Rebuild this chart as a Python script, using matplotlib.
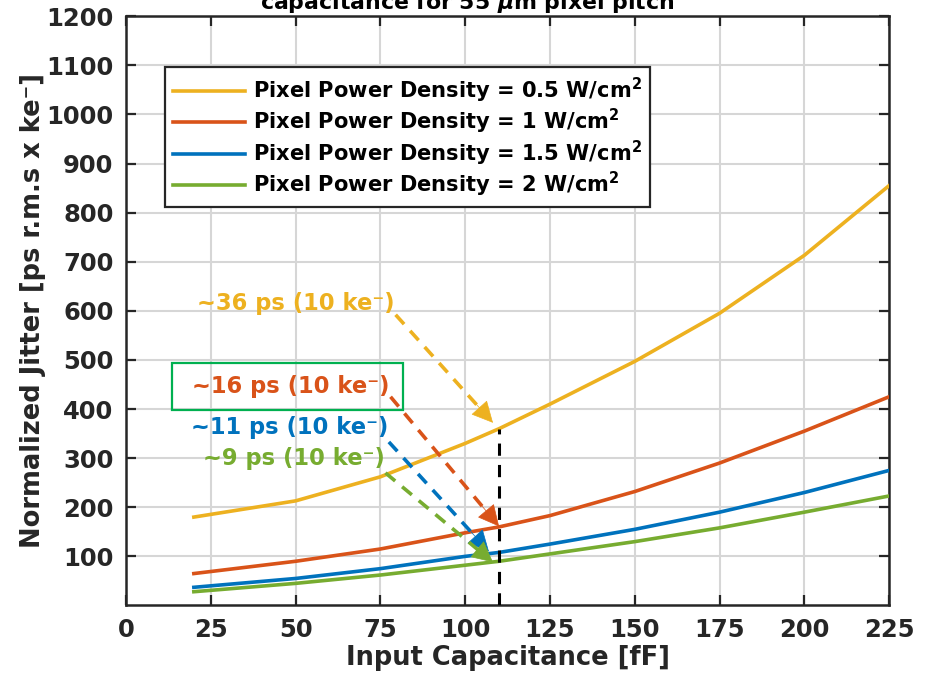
import matplotlib.pyplot as plt
from matplotlib.patches import Rectangle

# input capacitance [fF]
cap = [20, 50, 75, 100, 110, 125, 150, 175, 200, 225]

# normalized jitter [ps r.m.s x ke-] for each pixel power density
jit_05 = [180, 213, 262, 330, 360, 410, 497, 595, 713, 855]
jit_1 = [65, 90, 115, 148, 160, 183, 232, 290, 355, 425]
jit_15 = [37, 55, 75, 100, 108, 125, 155, 190, 230, 275]
jit_2 = [28, 45, 62, 82, 90, 105, 130, 158, 190, 223]

labels = [r'Pixel Power Density = 0.5 W/cm$^{\mathbf{2}}$',
          r'Pixel Power Density = 1 W/cm$^{\mathbf{2}}$',
          r'Pixel Power Density = 1.5 W/cm$^{\mathbf{2}}$',
          r'Pixel Power Density = 2 W/cm$^{\mathbf{2}}$']
colors = ['#EDB120', '#D95319', '#0072BD', '#77AC30']

# annotation texts, text positions, arrow start and arrow tip (data units)
notes = ['~36 ps (10 ke⁻)', '~16 ps (10 ke⁻)', '~11 ps (10 ke⁻)', '~9 ps (10 ke⁻)']
note_x = [20.8, 19.6, 19.2, 22.8]
note_y = [614, 445, 363, 300]
arr_from = [(79.5, 592), (78, 425), (77.5, 333), (76.5, 270)]
arr_to = [(108.2, 372), (110, 161), (107, 110), (108.2, 88)]

plt.rcParams['font.family'] = 'DejaVu Sans'
plt.rcParams['font.weight'] = 'bold'
dark = '#262626'

fig = plt.figure(figsize=(9.3, 6.75), dpi=100)
ax = fig.add_axes([0.1355, 0.103, 0.8205, 0.873])

series = [jit_05, jit_1, jit_15, jit_2]
for s, lab, c in zip(series, labels, colors):
    ax.plot(cap, s, color=c, lw=2.6, label=lab, zorder=3)

# vertical marker at 110 fF
ax.plot([110, 110], [0, jit_05[4]], color='black', lw=2.2, ls=(0, (4, 3)), zorder=4)

for txt, tx, ty, st, en, c in zip(notes, note_x, note_y, arr_from, arr_to, colors):
    ax.text(tx, ty, txt, color=c, fontsize=16.3, fontweight='bold', va='center', ha='left')
    # dashed shaft, then solid head
    fx = st[0] + (en[0] - st[0]) * 0.88
    fy = st[1] + (en[1] - st[1]) * 0.88
    hx = st[0] + (en[0] - st[0]) * 0.82
    hy = st[1] + (en[1] - st[1]) * 0.82
    ax.plot([st[0], fx], [st[1], fy], color=c, lw=2.6, ls=(0, (3.5, 2.5)), zorder=5)
    ax.annotate('', xy=en, xytext=(hx, hy),
                arrowprops=dict(arrowstyle='-|>,head_length=0.7,head_width=0.35',
                                color=c, lw=0.5, mutation_scale=20,
                                shrinkA=0, shrinkB=0), zorder=5)

# green box around the 16 ps note
ax.add_patch(Rectangle((13.6, 398), 68, 95, fill=False, edgecolor='#00B050', lw=1.6, zorder=5))

ax.set_xlim(0, 225)
ax.set_ylim(0, 1200)
ax.set_xticks(range(0, 226, 25))
ax.set_yticks(range(100, 1201, 100))
ax.grid(True, color='#d6d6d6', lw=1.5)
ax.set_axisbelow(True)
ax.tick_params(direction='in', length=7, width=1.6, labelsize=17.5, colors=dark,
               top=True, right=True, pad=9)
for sp in ax.spines.values():
    sp.set_linewidth(1.8)
    sp.set_color(dark)

ax.set_xlabel('Input Capacitance [fF]', fontsize=18.5, fontweight='bold', color=dark, labelpad=2)
ax.set_ylabel('Normalized Jitter [ps r.m.s x ke⁻]', fontsize=18.5,
              fontweight='bold', color=dark, labelpad=0)
fig.text(467 / 930, 1 - 9 / 675, r'capacitance for 55 $\mu$m pixel pitch', fontsize=15.8,
         fontweight='bold', color='black', ha='center', va='baseline')

leg = ax.legend(loc='upper left', bbox_to_anchor=(0.051, 0.913), fontsize=15.1,
                frameon=True, fancybox=False, edgecolor=dark, framealpha=1,
                handlelength=3.4, borderpad=0.4, labelspacing=0.1, handletextpad=0.4,
                borderaxespad=0)
leg.get_frame().set_linewidth(1.6)
for t in leg.get_texts():
    t.set_fontweight('bold')
    t.set_color('black')

fig.savefig('out.png', dpi=100)
